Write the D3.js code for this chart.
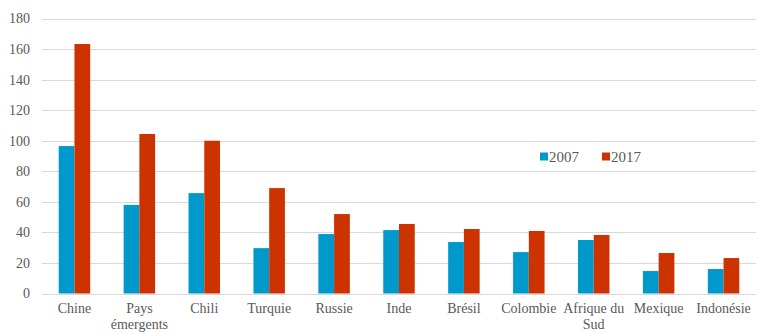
<!DOCTYPE html>
<html>
<head>
<meta charset="utf-8">
<script src="https://cdn.jsdelivr.net/npm/d3@7"></script>
<style>
  html, body { margin: 0; padding: 0; background: #fff; }
  svg { display: block; }
</style>
</head>
<body>
<svg id="chart" width="765" height="334" font-family="Liberation Serif" style="font-family: 'Liberation Serif'"></svg>
<script>
// Categories (x-axis labels; "\n" splits a label over two lines)
const categories = ["Chine", "Pays\némergents", "Chili", "Turquie", "Russie", "Inde",
  "Brésil", "Colombie", "Afrique du\nSud", "Mexique", "Indonésie"];
const seriesNames = ["2007", "2017"];
const values2007 = [96.5, 58, 65.7, 29.7, 38.9, 41.5, 33.7, 27.1, 35, 14.7, 16];
const values2017 = [163.3, 104.4, 100, 69, 52, 45.5, 42.2, 40.9, 38.3, 26.5, 23.2];
const yTicks = [0, 20, 40, 60, 80, 100, 120, 140, 160, 180];
const colors = ["#0099CC", "#CC3300"];

const FONT = "Liberation Serif";
const TEXT_COLOR = "#595959";

const svg = d3.select("#chart");
const margin = { left: 42, right: 9, top: 18.5, bottom: 40.5 };
const W = 765, H = 334;

const x = d3.scaleBand().domain(categories).range([margin.left, W - margin.right])
  .paddingInner(0.515).paddingOuter(0.2575);
const xs = d3.scaleBand().domain(seriesNames).range([0, x.bandwidth()]);
const y = d3.scaleLinear().domain([0, 180]).range([H - margin.bottom, margin.top]);

// Horizontal gridlines
svg.append("g").selectAll("line").data(yTicks).join("line")
  .attr("x1", margin.left).attr("x2", W - margin.right)
  .attr("y1", d => Math.round(y(d)) + 0.5).attr("y2", d => Math.round(y(d)) + 0.5)
  .attr("stroke", "#d9d9d9").attr("stroke-width", 1);

// Y axis labels
const yAxis = d3.axisLeft(y).tickValues(yTicks).tickSize(0).tickPadding(12);
const gy = svg.append("g").attr("transform", `translate(${margin.left},0)`).call(yAxis)
  .attr("font-family", FONT).attr("font-size", 14);
gy.select(".domain").remove();
gy.selectAll("text").attr("fill", TEXT_COLOR);

// Bars
const data = categories.map((c, i) => ({ cat: c, vals: [values2007[i], values2017[i]] }));
const groups = svg.append("g").selectAll("g").data(data).join("g")
  .attr("transform", d => `translate(${x(d.cat)},0)`);
groups.selectAll("rect").data(d => d.vals.map((v, j) => ({ v, s: seriesNames[j], j })))
  .join("rect")
  .attr("x", d => xs(d.s))
  .attr("width", xs.bandwidth())
  .attr("y", d => y(d.v))
  .attr("height", d => y(0) - y(d.v))
  .attr("fill", d => colors[d.j]);

// X axis labels
const xAxis = d3.axisBottom(x).tickSize(0).tickPadding(0).tickFormat("");
const gx = svg.append("g").attr("transform", `translate(0,${y(0)})`).call(xAxis)
  .attr("font-family", FONT).attr("font-size", 14);
gx.select(".domain").remove();
gx.selectAll(".tick").each(function(d) {
  const t = d3.select(this).append("text")
    .attr("text-anchor", "middle").attr("y", 19).attr("fill", TEXT_COLOR);
  d.split("\n").forEach((line, k) => {
    t.append("tspan").attr("x", 0).attr("dy", k === 0 ? 0 : 16).text(line);
  });
});

// Legend
const legend = svg.append("g").attr("transform", "translate(540,152)")
  .attr("font-family", FONT).attr("font-size", 15);
const legendItems = legend.selectAll("g").data(seriesNames).join("g")
  .attr("transform", (d, i) => `translate(${i * 62},0)`);
legendItems.append("rect").attr("width", 8).attr("height", 8).attr("y", 0.5)
  .attr("fill", (d, i) => colors[i]);
legendItems.append("text").attr("x", 9).attr("y", 9.5).attr("fill", TEXT_COLOR)
  .text(d => d);
</script>
</body>
</html>
